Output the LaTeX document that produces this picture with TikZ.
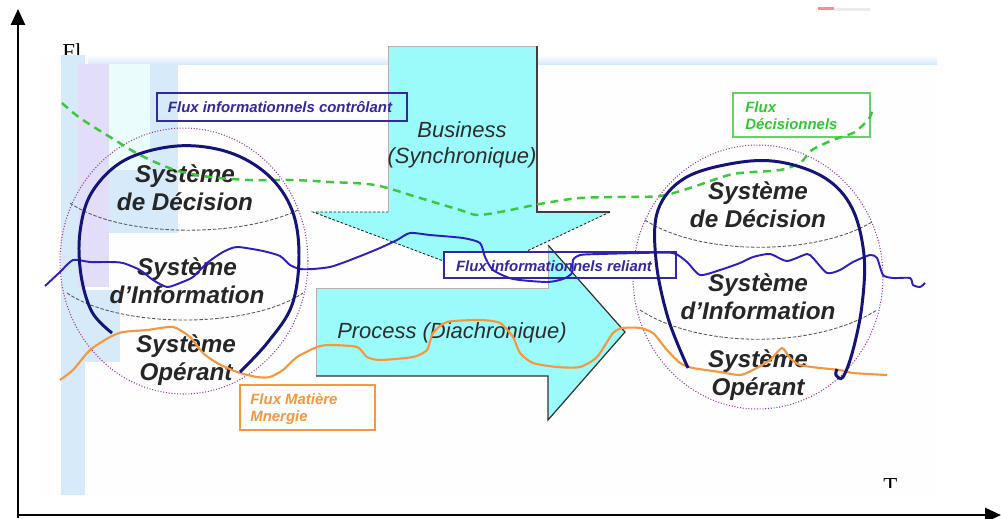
\documentclass[tikz,border=0pt]{standalone}
\usepackage{fontspec}
\setmainfont{Liberation Serif}
\newfontfamily\arial{Liberation Sans}
\usetikzlibrary{arrows.meta}
\definecolor{cyanfill}{RGB}{155,250,250}
\definecolor{navyline}{RGB}{20,20,120}
\definecolor{blueline}{RGB}{45,30,190}
\definecolor{orangeline}{RGB}{247,150,60}
\definecolor{greenline}{RGB}{60,200,60}
\definecolor{purpleline}{RGB}{150,60,150}
\definecolor{lblue}{RGB}{214,234,250}
\definecolor{lav}{RGB}{226,221,248}
\definecolor{lcyan}{RGB}{234,252,252}
\definecolor{navytext}{RGB}{50,40,160}
\definecolor{greentext}{RGB}{50,200,50}
\definecolor{orangetext}{RGB}{245,150,60}
\definecolor{darktext}{RGB}{45,45,45}
\tikzset{
  axisline/.style={line width=1.2pt,-{Triangle[length=9pt,width=8pt]}},
  sphere/.style={purpleline,densely dotted,line width=0.6pt},
  latitude/.style={gray!70!black,dashed,dash pattern=on 2pt off 1pt,line width=0.5pt},
  balloon/.style={navyline,line width=1.7pt},
  bigarrow/.style={fill=cyanfill,draw=gray!70!black,line width=0.5pt},
  syslabel/.style={font=\arial\bfseries\itshape\fontsize{13.8}{15.9}\selectfont,text=black!85,align=center,inner sep=0pt},
  arrowlabel/.style={font=\arial\itshape\fontsize{12.5}{14.7}\selectfont,text=darktext,align=center,inner sep=0pt},
  fluxlabel/.style={font=\arial\bfseries\itshape\fontsize{8.5}{9.6}\selectfont,inner sep=0pt},
  bluewave/.style={blueline,line width=1.1pt,line join=round},
  orangewave/.style={orangeline,line width=1.2pt,line join=round},
  greenwave/.style={greenline,line width=1.4pt,dash pattern=on 4.5pt off 3.2pt},
}
\begin{document}
\begin{tikzpicture}[x=0.02cm,y=-0.02cm]
\useasboundingbox (0,0) rectangle (1001,518);
\fill[white] (0,0) rectangle (1001,518);
% clipped axis label
\begin{scope}
  \clip (40,0) rectangle (200,55);
  \node[anchor=base west,inner sep=0pt,font=\fontsize{13}{15}\selectfont] (fl) at (62,59) {Fl};
\end{scope}
% faint background of the pasted picture
\fill[white!99.3!gray] (42,55) rectangle (937,495);
\shade[top color=white,bottom color=lblue] (88,55) rectangle (937,64);
\fill[lblue] (61,55) rectangle (85,495);
\fill[lblue] (85,290) rectangle (120,362);
\fill[lcyan] (95,64) rectangle (150,170);
\fill[lblue] (70,170) rectangle (178,233);
\fill[lblue] (150,64) rectangle (178,233);
\fill[lav] (78,64) rectangle (109,287);
\fill[red!45!white] (818,7) rectangle (834,10);
\fill[gray!15] (834,8) rectangle (870,11);
\begin{scope}
  \clip (870,470) rectangle (910,487);
  \node[anchor=base west,inner sep=0pt,font=\fontsize{13}{15}\selectfont] (tt) at (883,493) {T};
\end{scope}
% spheres
\draw[sphere] (184,261) ellipse [x radius=2.48cm, y radius=2.66cm];
\draw[sphere] (758,277) ellipse [x radius=2.5cm, y radius=2.64cm];
\draw[latitude] (70,203) .. controls (120,238) and (240,238) .. (298,210);
\draw[latitude] (67,293) .. controls (120,329) and (250,329) .. (303,293);
\draw[latitude] (645,220) .. controls (700,256) and (815,256) .. (872,222);
\draw[latitude] (640,310) .. controls (700,349) and (815,349) .. (877,310);
% Business arrow
\coordinate (b1) at (388,46); \coordinate (b2) at (537,46);
\coordinate (b3) at (537,212); \coordinate (b4) at (610,212);
\coordinate (btip) at (478,274); \coordinate (b6) at (313,212);
\coordinate (b7) at (388,212);
\fill[cyanfill] (b1) -- (b2) -- (b3) -- (b4) -- (btip) -- (b6) -- (b7) -- cycle;
\draw[gray!60,line width=0.5pt] (b7) -- (b1) -- (b2);
\draw[gray!50!black,line width=0.6pt] (b2) -- (b3) -- (b4);
\draw[gray!30!black,line width=0.5pt,dash pattern=on 1.5pt off 1pt] (b4) -- (btip) -- (b6) -- (b7);
\node[arrowlabel] (business) at (462,145) {Business\\(Synchronique)};
% box under reliant text
\fill[white] (444,252) rectangle (676,278);
% Process arrow
\coordinate (p1) at (316,288); \coordinate (p2) at (548,288);
\coordinate (p3) at (548,245); \coordinate (ptip) at (625,332);
\coordinate (p5) at (548,420); \coordinate (p6) at (548,376);
\coordinate (p7) at (316,376);
\fill[cyanfill] (p1) -- (p2) -- (p3) -- (ptip) -- (p5) -- (p6) -- (p7) -- cycle;
\draw[gray!60,line width=0.5pt] (p7) -- (p1) -- (p2) -- (p3);
\draw[gray!40!black,line width=0.7pt] (p3) -- (ptip) -- (p5) -- (p6) -- (p7);
\node[arrowlabel] (process) at (452,333) {Process (Diachronique)};
% flux boxes
\draw[navytext,line width=0.6pt] (157,93) rectangle (407,121);
\node[fluxlabel,text=navytext] (controlant) at (280,107) {Flux informationnels contrôlant};
\draw[navytext,line width=0.6pt] (444,252) rectangle (676,278);
\node[fluxlabel,text=navytext] (reliant) at (554,266) {Flux informationnels reliant};
\draw[greenline!80,line width=0.6pt] (733,93) rectangle (870,137);
\node[fluxlabel,text=greentext,anchor=west,align=left] (decis) at (745,116) {Flux\\Décisionnels};
\draw[orangeline,line width=0.6pt] (240,385) rectangle (375,430);
\node[fluxlabel,text=orangetext,anchor=west,align=left] (matiere) at (250,409) {Flux Matière\\Mnergie};
% system labels
\node[syslabel] (ldec) at (185,188) {Système\\de Décision};
\node[syslabel] (linf) at (187,281) {Système\\d’Information};
\node[syslabel] (lope) at (186,360) {Système\\Opérant};
\node[syslabel] (rdec) at (758,205) {Système\\de Décision};
\node[syslabel] (rinf) at (758,297) {Système\\d’Information};
\node[syslabel] (rope) at (758,375) {Système\\Opérant};
% flux lines
\draw[greenwave] plot[smooth,tension=0.5] coordinates {(62,103) (80,118) (110,137) (140,155) (175,170) (210,177) (250,180) (293,180) (330,182) (375,185) (420,198) (460,210) (477,215) (500,212) (520,208) (545,203) (580,198) (620,197) (660,196) (690,188) (713,180) (733,174) (753,172) (780,170) (800,163) (812,150) (833,140) (853,133) (863,125) (870,117) (873,108)};
\draw[bluewave] plot[smooth,tension=0.4] coordinates {(45,286) (60,272) (73,260) (90,262) (110,262) (123,263) (140,270) (153,280) (167,287) (180,283) (193,277) (207,263) (223,252) (237,247) (263,251) (280,256) (290,265) (300,269) (313,269) (330,267) (345,262) (363,255) (380,248) (397,240) (410,233) (430,235) (463,238) (480,243) (485,257) (493,270) (513,279) (547,282) (563,279) (572,273) (573,260) (580,255) (600,254) (640,253) (673,253) (687,262) (700,275) (720,270) (740,263) (753,257) (770,254) (787,261) (807,254) (813,258) (827,273) (840,270) (853,262) (870,255) (877,258) (883,275) (893,278) (910,278) (913,285) (920,287) (925,283)};
\draw[orangewave] plot[smooth,tension=0.4] coordinates {(60,380) (73,370) (90,350) (110,337) (123,332) (147,330) (173,327) (190,337) (203,353) (217,363) (237,372) (257,377) (270,377) (283,370) (297,357) (317,347) (330,345) (357,347) (367,357) (380,360) (413,357) (427,350) (433,333) (447,322) (480,320) (500,323) (513,337) (520,353) (533,363) (557,367) (580,367) (597,357) (613,333) (623,328) (640,328) (653,333) (667,350) (680,363) (693,368) (720,372) (740,375) (753,370) (770,360) (782,348) (790,358) (800,365) (820,368) (840,370) (853,373) (887,375)};
% balloons
\draw[balloon] plot[smooth,tension=0.6] coordinates {(112,333) (92,312) (81,275) (80,232) (92,192) (125,160) (177,146) (228,152) (268,175) (292,210) (299,255) (292,305) (268,342) (240,372)};
\draw[balloon] plot[smooth,tension=0.6] coordinates {(688,368) (668,318) (656,260) (658,210) (685,178) (735,163) (780,162) (825,178) (852,208) (864,255) (862,305) (853,350) (843,377) (836,375) (837,369)};
% axes
\coordinate (origin) at (18,515);
\coordinate (ytop) at (18,9);
\coordinate (xend) at (1001,515);
\draw[axisline] (18,518) -- (ytop);
\draw[axisline] (17,515) -- (xend);
\end{tikzpicture}
\end{document}
